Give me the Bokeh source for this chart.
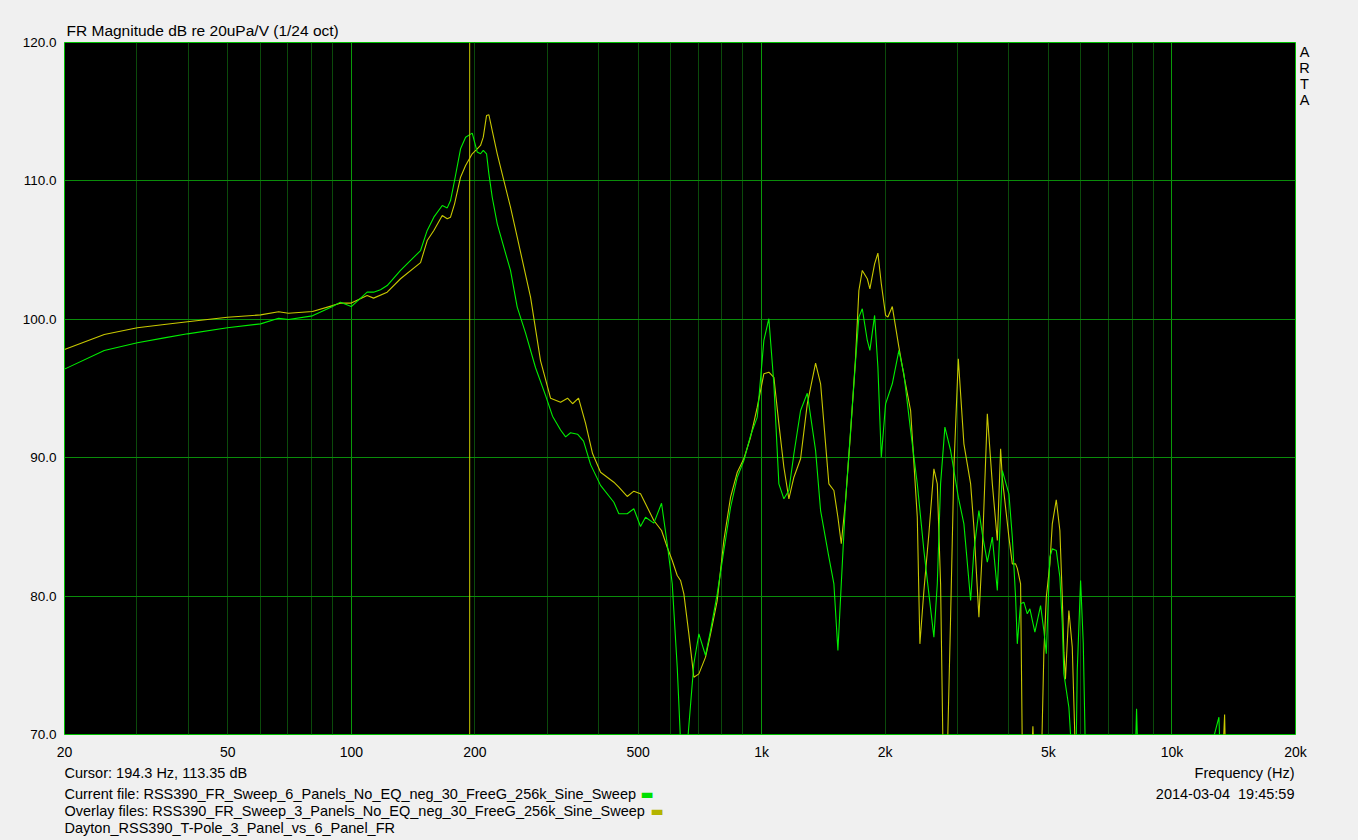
from bokeh.plotting import figure
from bokeh.models import Range1d, FixedTicker, Grid, Span, Label
from bokeh.embed import file_html
from bokeh.resources import INLINE

# ---------------- data ----------------
CURRENT_F = [20, 25, 30.1, 35, 39.9, 49.9, 60.1, 66.5, 70.3, 80.4,
             90, 94.1, 100, 109.3, 113.3, 117.8, 122.3, 131.8, 147.5, 153.1,
             158.9, 166.6, 171.3, 174.5, 178.5, 184.6, 189.9, 197.1, 202.7, 206.5,
             209.7, 213.6, 216.4, 220.5, 226.8, 235.3, 244.3, 253.7, 265.9, 281.2,
             297.4, 309.3, 323.6, 332.9, 342.2, 355.9, 368.1, 383, 405, 436.3,
             448.7, 470.3, 488.1, 506.8, 521.2, 546.1, 570.2, 588.7, 605.5, 622.7,
             634.4, 646, 660, 683.6, 703.1, 729.9, 750.7, 779.4, 808.8, 840,
             872.2, 904.9, 939.7, 975.7, 1012.5, 1041.3, 1071, 1101.5, 1132.9, 1165.1,
             1198.3, 1244.2, 1291.9, 1353.5, 1392.1, 1458.4, 1499.9, 1534.1, 1563.4, 1601.7,
             1647.3, 1694.2, 1725.7, 1759, 1809.1, 1835.6, 1884.9, 1920, 1957.1, 2004.9,
             2081.6, 2160.2, 2221.8, 2306.9, 2395.1, 2485.6, 2556.1, 2628.9, 2679.6, 2729.5,
             2796.3, 2887.3, 3015, 3111, 3230.6, 3290.7, 3384.5, 3449.8, 3548.1, 3649,
             3752.8, 3860, 4005, 4082, 4158, 4198, 4276, 4356, 4440, 4505,
             4633, 4784, 4873, 4940, 5040, 5109, 5224, 5331, 5403, 5452,
             5607, 5715, 5822, 5877, 5988, 6079, 6158, 6300, 8100, 8198,
             8300, 12300, 12562, 13013, 13200, 20000]
CURRENT_DB = [96.4, 97.75, 98.3, 98.66, 98.95, 99.39, 99.67, 100.08, 99.99, 100.25,
              100.92, 101.24, 100.92, 101.96, 101.96, 102.13, 102.44, 103.53, 104.97, 106.42,
              107.38, 108.22, 108.05, 108.58, 110.03, 112.32, 113.16, 113.45, 112.08, 111.96,
              112.2, 111.96, 110.51, 108.82, 106.9, 105.21, 103.53, 100.88, 99.0, 96.5,
              94.5, 93.0, 92.0, 91.5, 91.8, 91.7, 91.2, 89.5, 88.0, 86.78,
              85.95, 85.95, 86.31, 85.03, 85.7, 85.27, 86.71, 83.78, 80.89, 74.86,
              69.5, 66, 69.5, 75.11, 77.27, 75.71, 77.51, 80.16, 83.29, 86.42,
              88.59, 89.79, 91.6, 92.93, 98.47, 100.04, 95.34, 88.11, 87.03, 87.63,
              90.27, 93.41, 94.66, 90.52, 86.18, 82.81, 80.89, 76.07, 80.89, 86.91,
              91.97, 97.03, 100.16, 100.76, 98.47, 97.75, 100.28, 96.55, 90.03, 93.89,
              95.34, 97.75, 96.06, 91.97, 88.11, 83.29, 80.16, 77.03, 80.89, 88.11,
              92.21, 90.52, 87.15, 85.22, 79.68, 83.29, 86.18, 84.5, 82.45, 84.26,
              80.4, 89.07, 87.39, 84.26, 79.92, 76.55, 79.44, 79.56, 78.72, 79.08,
              77.39, 79.32, 77.51, 75.83, 82.81, 83.42, 83.3, 81.37, 78.0, 74.38,
              71.97, 68, 66, 74.62, 81.13, 76.55, 68, 60, 66, 71.86,
              66, 62, 69.5, 71.25, 66, 60]

OVERLAY_F = [20, 25, 30.1, 35, 39.9, 49.9, 60.1, 66.5, 70.3, 80.4,
             90, 94.1, 100, 109.3, 113.3, 122.3, 131.8, 147.5, 153.1, 158.9,
             166.6, 171.3, 174.5, 178.5, 184.6, 189.9, 197.1, 202.7, 206.5, 209.7,
             213.6, 216.4, 220.5, 226.8, 235.3, 244.3, 253.7, 273.4, 289.2, 305.9,
             323.6, 336.5, 346.1, 357.9, 372.2, 387.2, 405, 436.3, 448.7, 470.3,
             488.1, 506.8, 521.2, 546.1, 570.2, 588.7, 605.5, 622.7, 634.4, 646.3,
             664.7, 683.6, 703.1, 729.9, 750.7, 779.4, 808.8, 840, 872.2, 904.9,
             939.7, 975.7, 1012.5, 1041.3, 1071, 1101.5, 1132.9, 1165.1, 1198.3, 1244.2,
             1291.9, 1353.5, 1392.1, 1458.4, 1499.9, 1534.1, 1563.4, 1601.7, 1647.3, 1694.2,
             1725.7, 1759, 1809.1, 1835.6, 1884.9, 1920, 1957.1, 2004.9, 2030.9, 2081.6,
             2160.2, 2221.8, 2306.9, 2395.1, 2430.3, 2485.6, 2556.1, 2628.9, 2679.6, 2729.5,
             2765, 2796, 2840, 2887.3, 2941.5, 3015, 3111, 3230.6, 3290.7, 3384.5,
             3449.8, 3548.1, 3649, 3752.8, 3822.8, 3860, 4005, 4082, 4158, 4198,
             4276, 4317, 4360, 4540, 4582, 4620, 4790, 4873, 4940, 5040,
             5109, 5224, 5331, 5403, 5452, 5500, 5607, 5715, 5822, 5900,
             13200, 13436, 13560, 13700, 20000]
OVERLAY_DB = [97.82, 98.9, 99.39, 99.62, 99.82, 100.15, 100.32, 100.54, 100.44, 100.56,
              100.99, 101.17, 101.17, 101.72, 101.53, 101.96, 102.93, 104.1, 105.69, 106.42,
              107.5, 107.26, 107.38, 108.34, 110.27, 111.11, 111.96, 112.32, 112.56, 113.16,
              114.73, 114.78, 113.64, 111.96, 110.03, 108.1, 105.93, 101.6, 97.0, 94.3,
              94.0, 94.3, 93.9, 94.3, 92.5, 90.3, 88.95, 88.23, 87.87, 87.2,
              87.58, 87.39, 86.67, 85.46, 84.74, 83.53, 82.57, 81.49, 81.13, 80.16,
              77.27, 74.14, 74.38, 75.59, 77.27, 79.68, 84.02, 87.15, 88.95, 89.92,
              91.48, 93.65, 96.06, 96.18, 95.81, 92.44, 89.31, 87.03, 88.59, 89.92,
              93.89, 96.83, 95.34, 88.11, 87.63, 85.7, 83.78, 86.91, 91.85, 97.27,
              102.08, 103.53, 102.93, 102.2, 104.0, 104.78, 102.57, 100.28, 100.16, 100.92,
              97.99, 95.94, 93.41, 85.7, 76.55, 80.4, 84.5, 89.2, 88.11, 80.89,
              69.5, 66, 69.5, 78.48, 89.31, 97.15, 91.0, 88.11, 84.98, 78.48,
              83.29, 93.17, 88.11, 84.02, 90.64, 88.5, 84.26, 82.33, 82.33, 82.0,
              80.89, 69, 64, 68, 70.6, 68, 66, 75.95, 79.92, 82.33,
              85.22, 86.96, 84.74, 79.92, 75.95, 74.0, 78.96, 76.31, 68, 62,
              66, 71.44, 66, 62, 60]

X_TICKS = [20, 50, 100, 200, 500, 1000, 2000, 5000, 10000, 20000]
X_LABELS = ["20", "50", "100", "200", "500", "1k", "2k", "5k", "10k", "20k"]
Y_TICKS = [70, 80, 90, 100, 110, 120]
Y_LABELS = ["70.0", "80.0", "90.0", "100.0", "110.0", "120.0"]

CURSOR_HZ = 194.3
TITLE = "FR Magnitude dB re 20uPa/V (1/24 oct)"
CURSOR_TEXT = "Cursor: 194.3 Hz, 113.35 dB"
CURRENT_TEXT = "Current file: RSS390_FR_Sweep_6_Panels_No_EQ_neg_30_FreeG_256k_Sine_Sweep"
OVERLAY_TEXT = "Overlay files: RSS390_FR_Sweep_3_Panels_No_EQ_neg_30_FreeG_256k_Sine_Sweep"
NAME_TEXT = "Dayton_RSS390_T-Pole_3_Panel_vs_6_Panel_FR"
XLABEL = "Frequency (Hz)"
DATE_TEXT = "2014-03-04 \u00a019:45:59"
BRAND = ["A", "R", "T", "A"]

assert len(CURRENT_F) == len(CURRENT_DB)
assert len(OVERLAY_F) == len(OVERLAY_DB)

# ---------------- styling ----------------
GREEN = "#00ee00"
YELLOW = "#c8c800"
FONT = "Liberation Sans"
X0, X1, Y0, Y1 = 20, 20000, 70, 120
FW, FH = 1231, 692

p = figure(x_axis_type="log", x_range=Range1d(X0, X1), y_range=Range1d(Y0, Y1),
           frame_width=FW, frame_height=FH,
           min_border_left=64, min_border_right=55, min_border_top=42, min_border_bottom=96,
           output_backend="svg", toolbar_location=None,
           background_fill_color="black", border_fill_color="#f0f0f0",
           outline_line_color="#00c000", outline_line_width=1)

p.grid.visible = False

# axes
p.xaxis.ticker = FixedTicker(ticks=X_TICKS, num_minor_ticks=0)
p.xaxis.major_label_overrides = {t: l for t, l in zip(X_TICKS, X_LABELS)}
p.yaxis.ticker = FixedTicker(ticks=Y_TICKS, num_minor_ticks=0)
p.yaxis.major_label_overrides = {t: l for t, l in zip(Y_TICKS, Y_LABELS)}
for ax in (p.xaxis, p.yaxis):
    ax.axis_line_color = None
    ax.major_tick_line_color = None
    ax.minor_tick_line_color = None
    ax.major_label_text_font = FONT
    ax.major_label_text_color = "black"
p.xaxis.major_label_text_font_size = "14px"
p.yaxis.major_label_text_font_size = "13.5px"
p.xaxis.major_label_standoff = 3
p.yaxis.major_label_standoff = 2

# grids
minor_x = [m * 10 ** k for k in range(1, 5) for m in range(2, 10) if X0 < m * 10 ** k < X1]
decades = [100, 1000, 10000]
p.add_layout(Grid(dimension=0, ticker=FixedTicker(ticks=minor_x),
                  grid_line_color="#0b4a0b", grid_line_width=1))
p.add_layout(Grid(dimension=0, ticker=FixedTicker(ticks=decades),
                  grid_line_color="#0a9a0a", grid_line_width=1))
p.add_layout(Grid(dimension=1, ticker=FixedTicker(ticks=Y_TICKS[1:-1]),
                  grid_line_color="#0a8c0a", grid_line_width=1))

# cursor
p.add_layout(Span(location=CURSOR_HZ, dimension="height", line_color=YELLOW, line_width=1))

# curves
p.line(OVERLAY_F, OVERLAY_DB, line_color=YELLOW, line_width=1.1)
p.line(CURRENT_F, CURRENT_DB, line_color=GREEN, line_width=1.1)

# ---------------- texts (side-panel labels, positioned through the data scales) ----
DB_PER_PX = (Y1 - Y0) / FH


def below(px):
    return Y0 - px * DB_PER_PX


def above(px):
    return Y1 + px * DB_PER_PX


def lab(text, x, y, align="left", baseline="alphabetic", size="14.5px", color="black",
        xo=0, font=FONT):
    p.add_layout(Label(x=x, y=y, x_offset=xo, text=text, text_align=align,
                       text_baseline=baseline, text_font=font, text_font_size=size,
                       text_color=color), "below")


lab(TITLE, X0, above(12), size="15.5px", xo=2)
lab(CURSOR_TEXT, X0, below(38), xo=0)
lab(CURRENT_TEXT, X0, below(59), xo=0)
lab(OVERLAY_TEXT, X0, below(76), xo=0)
lab(NAME_TEXT, X0, below(93), xo=0)
lab(XLABEL, X1, below(38), align="right", xo=-1)
lab(DATE_TEXT, X1, below(59), align="right", xo=-1)
lab("\u25ac", X0, below(59), baseline="middle", size="14px", color="#00e000",
    xo=576, font="DejaVu Sans")
lab("\u25ac", X0, below(76), baseline="middle", size="14px", color="#b4b400",
    xo=586, font="DejaVu Sans")
for i, ch in enumerate(BRAND):
    lab(ch, X1, above(-(9 + 16 * i)), align="center", xo=9)

html = file_html(p, INLINE)
html = html.replace("</head>", "<style>html,body{background:#f0f0f0;}</style></head>", 1)
open("out.html", "w").write(html)
